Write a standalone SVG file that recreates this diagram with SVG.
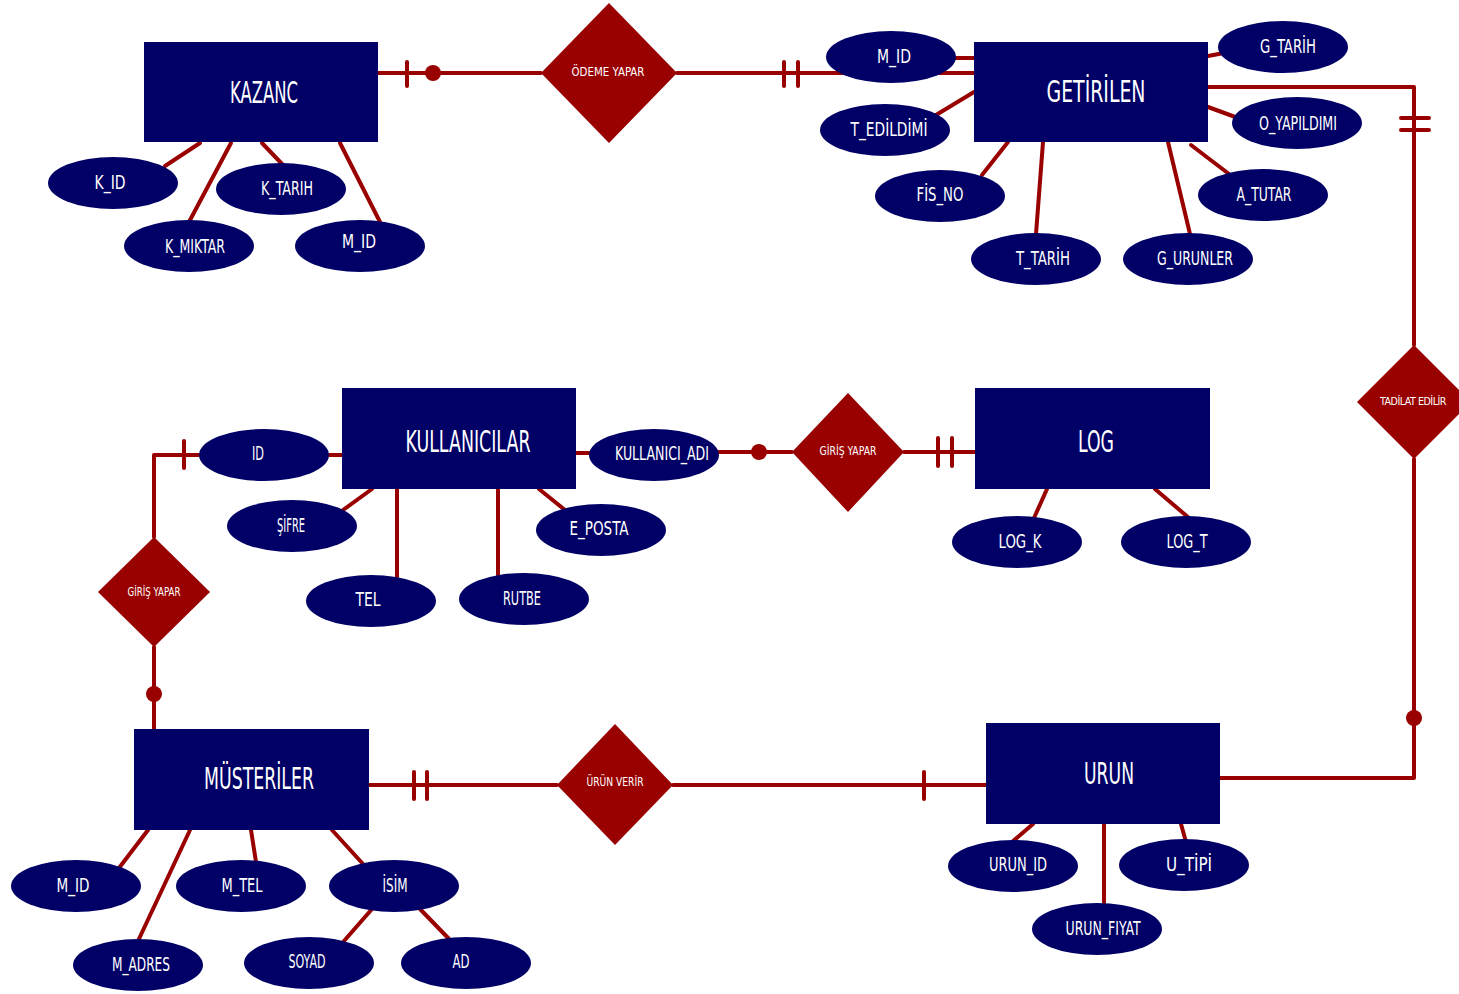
<svg xmlns="http://www.w3.org/2000/svg" width="1459" height="994" viewBox="0 0 1459 994">
<style>
.ln{stroke:#990000;stroke-width:4;fill:none;stroke-linecap:round;stroke-linejoin:round}
.tk{stroke:#990000;stroke-width:4;stroke-linecap:round}
.dot{fill:#990000}
.ent{fill:#000066}
.att{fill:#000066}
.rel{fill:#990000}
text{font-family:"DejaVu Sans","Liberation Sans",sans-serif;fill:#ffffff;text-anchor:middle;font-stretch:condensed}
.et{font-size:30px}
.at{font-size:19px}
.rt{font-size:13px}
.rs{font-size:11px;letter-spacing:-0.5px}
</style>
<rect width="1459" height="994" fill="#ffffff"/>
<g id="connectors">
  <path class="ln" d="M378,73 H541"/>
  <line class="tk" x1="407" y1="62" x2="407" y2="86"/>
  <circle class="dot" cx="433" cy="73" r="8"/>
  <path class="ln" d="M677,73 H974"/>
  <line class="tk" x1="784" y1="62" x2="784" y2="86"/>
  <line class="tk" x1="798" y1="62" x2="798" y2="86"/>
  <path class="ln" d="M1208,87 H1414 V345"/>
  <line class="tk" x1="1401" y1="118" x2="1429" y2="118"/>
  <line class="tk" x1="1401" y1="130" x2="1429" y2="130"/>
  <path class="ln" d="M1414,459 V778 H1220"/>
  <circle class="dot" cx="1414" cy="718" r="8"/>
  <path class="ln" d="M576,453 H590"/>
  <path class="ln" d="M719,452 H792"/>
  <circle class="dot" cx="759" cy="452" r="8"/>
  <path class="ln" d="M904,452 H975"/>
  <line class="tk" x1="938" y1="438" x2="938" y2="466"/>
  <line class="tk" x1="952" y1="438" x2="952" y2="466"/>
  <path class="ln" d="M200,455 H154 V537"/>
  <line class="tk" x1="184" y1="441" x2="184" y2="468"/>
  <path class="ln" d="M329,455 H342"/>
  <path class="ln" d="M154,647 V729"/>
  <circle class="dot" cx="154" cy="694" r="8"/>
  <path class="ln" d="M368,785 H557"/>
  <line class="tk" x1="414" y1="772" x2="414" y2="799"/>
  <line class="tk" x1="427" y1="772" x2="427" y2="799"/>
  <path class="ln" d="M673,785 H986"/>
  <line class="tk" x1="924" y1="772" x2="924" y2="799"/>
  <line class="ln" x1="165" y1="166" x2="200" y2="143"/>
  <line class="ln" x1="189" y1="222" x2="231" y2="143"/>
  <line class="ln" x1="283" y1="165" x2="262" y2="143"/>
  <line class="ln" x1="380" y1="222" x2="340" y2="143"/>
  <line class="ln" x1="950" y1="58" x2="974" y2="58"/>
  <line class="ln" x1="936" y1="115" x2="974" y2="92"/>
  <line class="ln" x1="982" y1="175" x2="1008" y2="142"/>
  <line class="ln" x1="1036" y1="234" x2="1043" y2="142"/>
  <line class="ln" x1="1190" y1="234" x2="1168" y2="142"/>
  <line class="ln" x1="1229" y1="174" x2="1191" y2="145"/>
  <line class="ln" x1="1208" y1="107" x2="1238" y2="118"/>
  <line class="ln" x1="1208" y1="56" x2="1224" y2="53"/>
  <line class="ln" x1="343" y1="510" x2="372" y2="489"/>
  <line class="ln" x1="397" y1="489" x2="397" y2="577"/>
  <line class="ln" x1="498" y1="489" x2="498" y2="575"/>
  <line class="ln" x1="565" y1="510" x2="539" y2="489"/>
  <line class="ln" x1="1034" y1="518" x2="1047" y2="489"/>
  <line class="ln" x1="1189" y1="518" x2="1155" y2="489"/>
  <line class="ln" x1="119" y1="868" x2="148" y2="830"/>
  <line class="ln" x1="138" y1="941" x2="190" y2="830"/>
  <line class="ln" x1="256" y1="862" x2="251" y2="830"/>
  <line class="ln" x1="363" y1="864" x2="332" y2="830"/>
  <line class="ln" x1="344" y1="941" x2="372" y2="909"/>
  <line class="ln" x1="451" y1="941" x2="420" y2="909"/>
  <line class="ln" x1="1012" y1="842" x2="1033" y2="824"/>
  <line class="ln" x1="1104" y1="824" x2="1104" y2="905"/>
  <line class="ln" x1="1186" y1="842" x2="1181" y2="824"/>
</g>

<g id="KAZANC">
  <rect class="ent" x="144" y="42" width="234" height="100"/>
  <text class="et" x="264" y="103" textLength="68" lengthAdjust="spacingAndGlyphs">KAZANC</text>
</g>
<g id="K_ID"><ellipse class="att" cx="113" cy="183" rx="65" ry="26"/><text class="at" x="110" y="189" textLength="31" lengthAdjust="spacingAndGlyphs">K_ID</text></g>
<g id="K_MIKTAR"><ellipse class="att" cx="189" cy="246" rx="65" ry="26"/><text class="at" x="195" y="253" textLength="60" lengthAdjust="spacingAndGlyphs">K_MIKTAR</text></g>
<g id="K_TARIH"><ellipse class="att" cx="281" cy="189" rx="65" ry="26"/><text class="at" x="287" y="195" textLength="52" lengthAdjust="spacingAndGlyphs">K_TARIH</text></g>
<g id="KAZANC_M_ID"><ellipse class="att" cx="360" cy="246" rx="65" ry="26"/><text class="at" x="359" y="248" textLength="34" lengthAdjust="spacingAndGlyphs">M_ID</text></g>

<g id="ODEME_YAPAR">
  <polygon class="rel" points="609,3 677,73 609,143 541,73"/>
  <text class="rt" x="608" y="76" textLength="73" lengthAdjust="spacingAndGlyphs">ÖDEME YAPAR</text>
</g>

<g id="GETIRILEN">
  <rect class="ent" x="974" y="42" width="234" height="100"/>
  <text class="et" x="1096" y="102" textLength="99" lengthAdjust="spacingAndGlyphs">GETİRİLEN</text>
</g>
<g id="GETIRILEN_M_ID"><ellipse class="att" cx="891" cy="57" rx="65" ry="26"/><text class="at" x="894" y="63" textLength="34" lengthAdjust="spacingAndGlyphs">M_ID</text></g>
<g id="T_EDILDIMI"><ellipse class="att" cx="885" cy="130" rx="65" ry="26"/><text class="at" x="889" y="136" textLength="77" lengthAdjust="spacingAndGlyphs">T_EDİLDİMİ</text></g>
<g id="FIS_NO"><ellipse class="att" cx="940" cy="196" rx="65" ry="26"/><text class="at" x="940" y="201" textLength="47" lengthAdjust="spacingAndGlyphs">FİS_NO</text></g>
<g id="T_TARIH"><ellipse class="att" cx="1036" cy="259" rx="65" ry="26"/><text class="at" x="1043" y="265" textLength="54" lengthAdjust="spacingAndGlyphs">T_TARİH</text></g>
<g id="G_URUNLER"><ellipse class="att" cx="1188" cy="259" rx="65" ry="26"/><text class="at" x="1195" y="265" textLength="76" lengthAdjust="spacingAndGlyphs">G_URUNLER</text></g>
<g id="A_TUTAR"><ellipse class="att" cx="1263" cy="195" rx="65" ry="26"/><text class="at" x="1264" y="201" textLength="55" lengthAdjust="spacingAndGlyphs">A_TUTAR</text></g>
<g id="O_YAPILDIMI"><ellipse class="att" cx="1297" cy="123" rx="65" ry="26"/><text class="at" x="1298" y="130" textLength="78" lengthAdjust="spacingAndGlyphs">O_YAPILDIMI</text></g>
<g id="G_TARIH"><ellipse class="att" cx="1283" cy="47" rx="65" ry="26"/><text class="at" x="1288" y="53" textLength="56" lengthAdjust="spacingAndGlyphs">G_TARİH</text></g>

<g id="TADILAT_EDILIR">
  <polygon class="rel" points="1414,345 1459,390 1459,414 1414,459 1357,402"/>
  <text class="rs" x="1413" y="405" textLength="66" lengthAdjust="spacingAndGlyphs">TADİLAT EDİLİR</text>
</g>

<g id="KULLANICILAR">
  <rect class="ent" x="342" y="388" width="234" height="101"/>
  <text class="et" x="468" y="452" textLength="125" lengthAdjust="spacingAndGlyphs">KULLANICILAR</text>
</g>
<g id="ID"><ellipse class="att" cx="264" cy="455" rx="65" ry="26"/><text class="at" x="258" y="460" textLength="12" lengthAdjust="spacingAndGlyphs">ID</text></g>
<g id="SIFRE"><ellipse class="att" cx="292" cy="526" rx="65" ry="26"/><text class="at" x="291" y="532" textLength="28" lengthAdjust="spacingAndGlyphs">ŞİFRE</text></g>
<g id="TEL"><ellipse class="att" cx="371" cy="601" rx="65" ry="26"/><text class="at" x="368" y="606" textLength="25" lengthAdjust="spacingAndGlyphs">TEL</text></g>
<g id="RUTBE"><ellipse class="att" cx="524" cy="599" rx="65" ry="26"/><text class="at" x="522" y="605" textLength="38" lengthAdjust="spacingAndGlyphs">RUTBE</text></g>
<g id="E_POSTA"><ellipse class="att" cx="601" cy="530" rx="65" ry="26"/><text class="at" x="599" y="535" textLength="59" lengthAdjust="spacingAndGlyphs">E_POSTA</text></g>
<g id="KULLANICI_ADI"><ellipse class="att" cx="654" cy="455" rx="65" ry="26"/><text class="at" x="662" y="460" textLength="94" lengthAdjust="spacingAndGlyphs">KULLANICI_ADI</text></g>

<g id="GIRIS_YAPAR_LOG">
  <polygon class="rel" points="848,393 904,452 848,512 792,452"/>
  <text class="rt" x="848" y="455" textLength="57" lengthAdjust="spacingAndGlyphs">GİRİŞ YAPAR</text>
</g>

<g id="LOG">
  <rect class="ent" x="975" y="388" width="235" height="101"/>
  <text class="et" x="1096" y="452" textLength="36" lengthAdjust="spacingAndGlyphs">LOG</text>
</g>
<g id="LOG_K"><ellipse class="att" cx="1017" cy="542" rx="65" ry="26"/><text class="at" x="1020" y="548" textLength="43" lengthAdjust="spacingAndGlyphs">LOG_K</text></g>
<g id="LOG_T"><ellipse class="att" cx="1186" cy="542" rx="65" ry="26"/><text class="at" x="1187" y="548" textLength="41" lengthAdjust="spacingAndGlyphs">LOG_T</text></g>

<g id="GIRIS_YAPAR_MUSTERI">
  <polygon class="rel" points="154,537 210,592 154,647 98,592"/>
  <text class="rt" x="154" y="596" textLength="53" lengthAdjust="spacingAndGlyphs">GİRİŞ YAPAR</text>
</g>

<g id="MUSTERILER">
  <rect class="ent" x="134" y="729" width="235" height="101"/>
  <text class="et" x="259" y="789" textLength="110" lengthAdjust="spacingAndGlyphs">MÜSTERİLER</text>
</g>
<g id="MUSTERI_M_ID"><ellipse class="att" cx="76" cy="886" rx="65" ry="26"/><text class="at" x="73" y="892" textLength="33" lengthAdjust="spacingAndGlyphs">M_ID</text></g>
<g id="M_ADRES"><ellipse class="att" cx="138" cy="965" rx="65" ry="26"/><text class="at" x="141" y="971" textLength="58" lengthAdjust="spacingAndGlyphs">M_ADRES</text></g>
<g id="M_TEL"><ellipse class="att" cx="241" cy="886" rx="65" ry="26"/><text class="at" x="242" y="892" textLength="41" lengthAdjust="spacingAndGlyphs">M_TEL</text></g>
<g id="ISIM"><ellipse class="att" cx="394" cy="886" rx="65" ry="26"/><text class="at" x="395" y="892" textLength="25" lengthAdjust="spacingAndGlyphs">İSİM</text></g>
<g id="SOYAD"><ellipse class="att" cx="309" cy="963" rx="65" ry="26"/><text class="at" x="307" y="968" textLength="37" lengthAdjust="spacingAndGlyphs">SOYAD</text></g>
<g id="AD"><ellipse class="att" cx="466" cy="963" rx="65" ry="26"/><text class="at" x="461" y="968" textLength="17" lengthAdjust="spacingAndGlyphs">AD</text></g>

<g id="URUN_VERIR">
  <polygon class="rel" points="615,724 673,785 615,845 557,785"/>
  <text class="rt" x="615" y="786" textLength="57" lengthAdjust="spacingAndGlyphs">ÜRÜN VERİR</text>
</g>

<g id="URUN">
  <rect class="ent" x="986" y="723" width="234" height="101"/>
  <text class="et" x="1109" y="784" textLength="50" lengthAdjust="spacingAndGlyphs">URUN</text>
</g>
<g id="URUN_ID"><ellipse class="att" cx="1013" cy="866" rx="65" ry="26"/><text class="at" x="1018" y="871" textLength="58" lengthAdjust="spacingAndGlyphs">URUN_ID</text></g>
<g id="U_TIPI"><ellipse class="att" cx="1184" cy="865" rx="65" ry="26"/><text class="at" x="1189" y="871" textLength="46" lengthAdjust="spacingAndGlyphs">U_TİPİ</text></g>
<g id="URUN_FIYAT"><ellipse class="att" cx="1097" cy="929" rx="65" ry="26"/><text class="at" x="1103" y="935" textLength="75" lengthAdjust="spacingAndGlyphs">URUN_FIYAT</text></g>
</svg>
